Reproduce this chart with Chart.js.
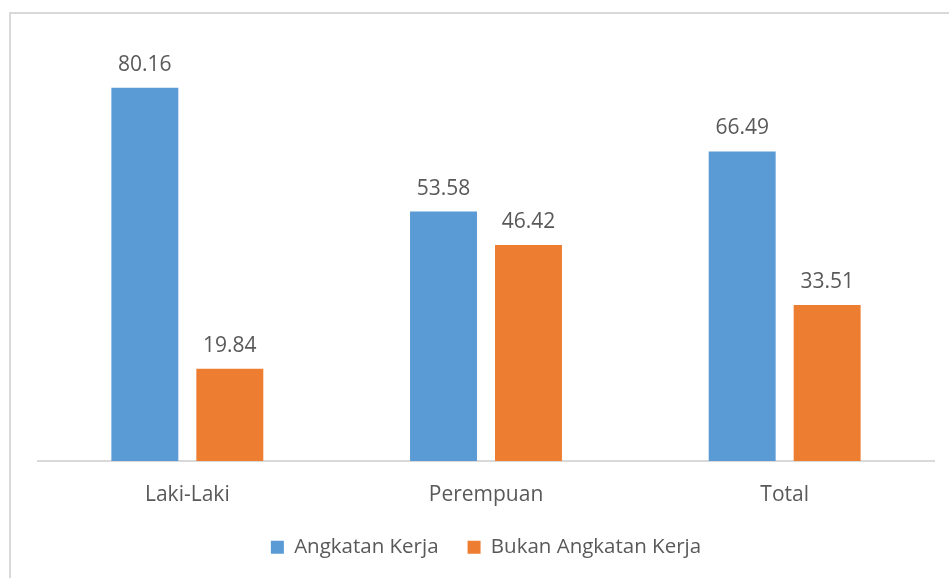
<!DOCTYPE html>
<html>
<head>
<meta charset="utf-8">
<script src="https://cdn.jsdelivr.net/npm/chart.js@4.4.1/dist/chart.umd.min.js"></script>
<style>
  html, body { margin: 0; padding: 0; background: #fff; overflow: hidden; }
  #frame { position: absolute; left: 9px; top: 12px; width: 1000px; height: 700px; border: 2px solid #d9d9d9; }
  #myChart { position: absolute; left: 0; top: 0; }
</style>
</head>
<body>
<div id="frame"></div>
<canvas id="myChart" width="949" height="578"></canvas>
<script>
const categories = ["Laki-Laki", "Perempuan", "Total"];
const angkatanKerja = [80.16, 53.58, 66.49];
const bukanAngkatanKerja = [19.84, 46.42, 33.51];
const seriesNames = ["Angkatan Kerja", "Bukan Angkatan Kerja"];

const textColor = "#595959";
const fontFamily = "'Open Sans', sans-serif";

// draw value labels over each bar
const valueLabels = {
    id: "valueLabels",
    afterDatasetsDraw(chart)
    {
        const ctx = chart.ctx;
        ctx.save();
        ctx.font = "21px " + fontFamily;
        ctx.fillStyle = textColor;
        ctx.textAlign = "center";
        ctx.textBaseline = "alphabetic";
        chart.data.datasets.forEach((ds, di) =>
        {
            chart.getDatasetMeta(di).data.forEach((bar, i) =>
            {
                ctx.fillText(ds.data[i].toFixed(2), bar.x, bar.y - 17);
            });
        });
        ctx.restore();
    }
};

window.addEventListener("load", () =>
{
    let ctx = document.getElementById('myChart').getContext('2d');
    new Chart(ctx, {
        type: "bar",
        data: {
            labels: categories,
            datasets: [
                { label: seriesNames[0], data: angkatanKerja, backgroundColor: "#5B9BD5" },
                { label: seriesNames[1], data: bukanAngkatanKerja, backgroundColor: "#ED7D31" }
            ]
        },
        options: {
            responsive: false,
            animation: false,
            categoryPercentage: 0.569,
            barPercentage: 0.788,
            layout: { padding: { left: 38, right: 15, top: 42, bottom: 10.5 } },
            scales: {
                x: {
                    grid: { display: false, drawTicks: false },
                    border: { display: true, color: "#d9d9d9", width: 2 },
                    ticks: { color: textColor, font: { family: fontFamily, size: 21 }, padding: 21 },
                    afterFit: scale => { scale.height = 47; }
                },
                y: { display: false, min: 0, max: 90 }
            },
            plugins: {
                legend: {
                    position: "bottom",
                    labels: {
                        color: textColor,
                        font: { family: fontFamily, size: 20.5 },
                        boxWidth: 13,
                        boxHeight: 13,
                        padding: 29
                    }
                },
                tooltip: { enabled: false }
            }
        },
        plugins: [valueLabels]
    });
});
</script>
</body>
</html>
